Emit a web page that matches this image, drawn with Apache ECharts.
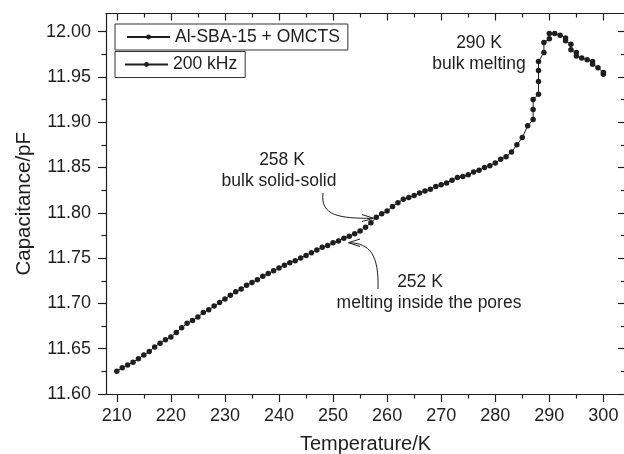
<!DOCTYPE html>
<html><head><meta charset="utf-8">
<script src="https://cdn.jsdelivr.net/npm/echarts@6/dist/echarts.min.js"></script>
<style>html,body{margin:0;padding:0;background:#fff}#c{width:624px;height:454px}</style>
</head><body><div id="c"></div>
<script>
const temperature = [210,211,212,213,214,215,216,217,218,219,220,221,222,223,224,225,226,227,228,229,230,231,232,233,234,235,236,237,238,239,240,241,242,243,244,245,246,247,248,249,250,251,252,253,254,255,256,257,258,259,260,261,262,263,264,265,266,267,268,269,270,271,272,273,274,275,276,277,278,279,280,281,282,283,284,285,286,287,287,287,288,288,288,288,289,289,290,290,291,292,293,293,294,294,295,295,296,297,298,298,299,300,300];
const capacitance = [11.625,11.629,11.632,11.635,11.639,11.643,11.647,11.652,11.656,11.660,11.663,11.668,11.673,11.678,11.681,11.685,11.690,11.693,11.697,11.701,11.705,11.709,11.713,11.716,11.720,11.723,11.726,11.730,11.733,11.736,11.739,11.742,11.745,11.747,11.750,11.753,11.756,11.759,11.762,11.764,11.767,11.769,11.772,11.774,11.777,11.780,11.784,11.789,11.795,11.799,11.802,11.807,11.811,11.815,11.817,11.819,11.822,11.824,11.826,11.829,11.831,11.833,11.836,11.839,11.840,11.842,11.845,11.847,11.850,11.852,11.855,11.859,11.862,11.867,11.875,11.883,11.896,11.903,11.914,11.925,11.931,11.945,11.957,11.967,11.977,11.988,11.992,11.998,11.998,11.996,11.993,11.990,11.986,11.980,11.977,11.973,11.971,11.969,11.967,11.964,11.960,11.955,11.953];
const xMajorTicks = [210,220,230,240,250,260,270,280,290,300];
const xMinorTicks = [215,225,235,245,255,265,275,285,295];
const yMajorTicks = [11.60,11.65,11.70,11.75,11.80,11.85,11.90,11.95,12.00];
const yMinorTicks = [11.625,11.675,11.725,11.775,11.825,11.875,11.925,11.975];
const xRange = [208, 304];
const yRange = [11.60, 12.02];
const seriesName = 'Al-SBA-15 + OMCTS';
const freqName = '200 kHz';
const xTitle = 'Temperature/K';
const yTitle = 'Capacitance/pF';
const notes = [
  {lines: ['290 K', 'bulk melting']},
  {lines: ['258 K', 'bulk solid-solid']},
  {lines: ['252 K', 'melting inside the pores']}
];

const FF = '"Liberation Sans", Arial, Helvetica, sans-serif';
const INK = '#1e1e1e';
const chart = echarts.init(document.getElementById('c'), null, {renderer: 'canvas'});

const data = temperature.map((t, i) => [t, capacitance[i]]);

function xAx(pos, values, len, inside, showLine, showLabel, extra) {
  return Object.assign({
    type: 'value', position: pos, min: xRange[0], max: xRange[1], gridIndex: 0,
    axisLine: {show: showLine, onZero: false, lineStyle: {color: INK, width: 1.2}},
    axisTick: {show: true, inside: inside, length: len, customValues: values, lineStyle: {color: INK, width: 1.2}},
    axisLabel: {show: showLabel, customValues: values, fontSize: 18, fontFamily: FF, color: INK, margin: 13},
    splitLine: {show: false}
  }, extra || {});
}
function yAx(pos, values, len, inside, showLine, showLabel, extra) {
  return Object.assign({
    type: 'value', position: pos, min: yRange[0], max: yRange[1], gridIndex: 0,
    axisLine: {show: showLine, onZero: false, lineStyle: {color: INK, width: 1.2}},
    axisTick: {show: true, inside: inside, length: len, customValues: values, lineStyle: {color: INK, width: 1.2}},
    axisLabel: {show: showLabel, customValues: values, fontSize: 18, fontFamily: FF, color: INK, margin: 15,
      formatter: v => Number(v).toFixed(2)},
    splitLine: {show: false}
  }, extra || {});
}

const graphics = [];
const textStyle = (x, y, t) => ({type: 'text', z: 100, style: {x: x, y: y, text: t, align: 'center', verticalAlign: 'middle', fontSize: 17.5, fontFamily: FF, fill: INK}});
graphics.push(textStyle(479, 43, notes[0].lines[0]));
graphics.push(textStyle(479, 64, notes[0].lines[1]));
graphics.push(textStyle(282, 160, notes[1].lines[0]));
graphics.push(textStyle(279, 181.5, notes[1].lines[1]));
graphics.push(textStyle(420, 282, notes[2].lines[0]));
graphics.push(textStyle(429, 303.5, notes[2].lines[1]));
const arrowStyle = {stroke: INK, lineWidth: 1, fill: null};
graphics.push({type: 'bezierCurve', z: 100, shape: {x1: 323, y1: 193, cpx1: 320, cpy1: 216, cpx2: 340, cpy2: 218.5, x2: 373, y2: 218.3}, style: arrowStyle});
graphics.push({type: 'polyline', z: 100, shape: {points: [[362, 214.5], [373.5, 218.3], [362, 221.5]]}, style: arrowStyle});
graphics.push({type: 'bezierCurve', z: 100, shape: {x1: 378, y1: 289, cpx1: 379, cpy1: 255, cpx2: 370, cpy2: 243, x2: 348.5, y2: 242.7}, style: arrowStyle});
graphics.push({type: 'polyline', z: 100, shape: {points: [[360, 239], [348.5, 242.7], [360, 246.5]]}, style: arrowStyle});

const legendBase = {
  orient: 'horizontal', itemWidth: 43, itemHeight: 6, itemGap: 0, selectedMode: false,
  borderColor: '#333', borderWidth: 1, borderRadius: 0, backgroundColor: '#fff',
  textStyle: {fontSize: 17.5, fontFamily: FF, color: INK}
};

chart.setOption({
  animation: false,
  backgroundColor: '#fff',
  grid: {left: 106, top: 13.5, right: -1, bottom: 60, containLabel: false, outerBoundsMode: 'none'},
  xAxis: [
    xAx('bottom', xMajorTicks, 8, false, true, true, {name: xTitle, nameLocation: 'middle', nameGap: 40,
      nameTextStyle: {fontSize: 20, fontFamily: FF, color: INK}}),
    xAx('bottom', xMinorTicks, 4.5, false, false, false),
    xAx('top', xMajorTicks, 7, true, true, false),
    xAx('top', xMinorTicks, 4, true, false, false)
  ],
  yAxis: [
    yAx('left', yMajorTicks, 8, false, true, true, {name: yTitle, nameLocation: 'middle', nameGap: 70,
      nameTextStyle: {fontSize: 20.5, fontFamily: FF, color: INK}}),
    yAx('left', yMinorTicks, 4.5, false, false, false),
    yAx('right', yMajorTicks, 7, true, true, false),
    yAx('right', yMinorTicks, 4, true, false, false)
  ],
  legend: [
    Object.assign({}, legendBase, {data: [seriesName], left: 115, top: 24, padding: [4, 8, 4, 11]}),
    Object.assign({}, legendBase, {data: [freqName], left: 115, top: 51.5, padding: [4, 8, 4, 9]})
  ],
  series: [
    {name: seriesName, type: 'line', xAxisIndex: 0, yAxisIndex: 0, data: data,
      symbol: 'circle', symbolSize: 5.5, showAllSymbol: true,
      lineStyle: {color: INK, width: 1}, itemStyle: {color: INK}, z: 5},
    {name: freqName, type: 'line', xAxisIndex: 0, yAxisIndex: 0, data: [],
      symbol: 'circle', symbolSize: 5.5, lineStyle: {color: INK, width: 1}, itemStyle: {color: INK}}
  ],
  graphic: graphics
});
</script></body></html>
